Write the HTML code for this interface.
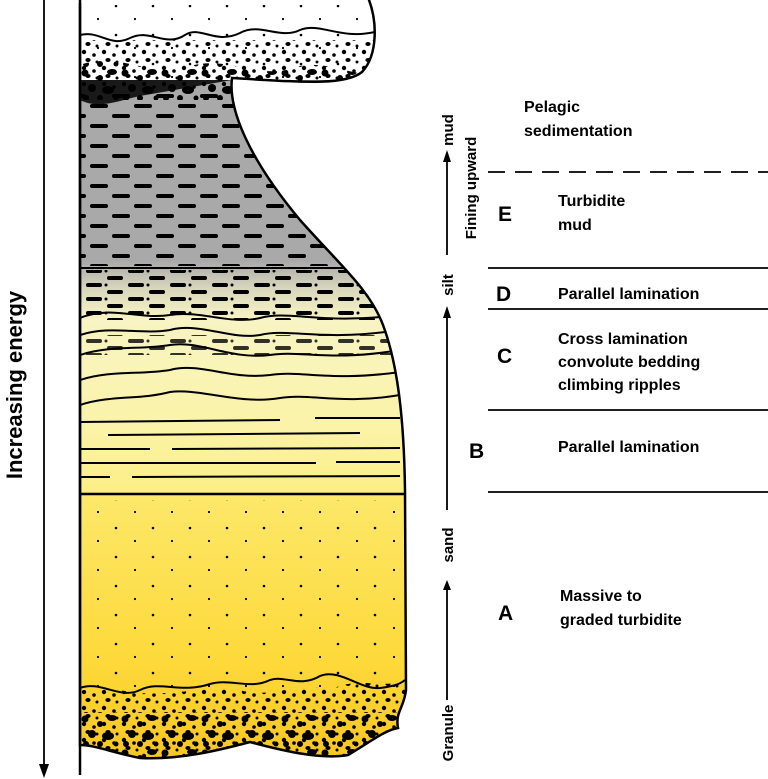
<!DOCTYPE html>
<html><head><meta charset="utf-8"><style>
html,body{margin:0;padding:0;background:#fff;}
svg{display:block;font-family:"Liberation Sans",Arial,sans-serif;font-weight:bold;}
</style></head><body>
<svg width="768" height="779" viewBox="0 0 768 779" xmlns="http://www.w3.org/2000/svg">
<defs>
<linearGradient id="gy" x1="0" y1="0" x2="0" y2="779" gradientUnits="userSpaceOnUse">
 <stop offset="0" stop-color="#a9a9a9"/>
 <stop offset="0.335" stop-color="#a9a9a9"/>
 <stop offset="0.37" stop-color="#d8d6bc"/>
 <stop offset="0.41" stop-color="#f8f4c4"/>
 <stop offset="0.55" stop-color="#fbf3a8"/>
 <stop offset="0.63" stop-color="#fbef86"/>
 <stop offset="0.634" stop-color="#fde86a"/>
 <stop offset="0.85" stop-color="#fdd93a"/>
 <stop offset="1" stop-color="#f7c21a"/>
</linearGradient>
<pattern id="dash" width="44" height="20" patternUnits="userSpaceOnUse">
 <rect x="2" y="4" width="18" height="4" rx="2" fill="#000"/>
 <rect x="24" y="14" width="18" height="4" rx="2" fill="#000"/>
</pattern>
<pattern id="dashdot" width="42" height="14" patternUnits="userSpaceOnUse">
 <rect x="2" y="3" width="16" height="4" rx="2" fill="#000"/>
 <circle cx="22" cy="5" r="1.5" fill="#000"/>
 <rect x="23" y="10" width="16" height="4" rx="2" fill="#000"/>
</pattern>
<pattern id="dots" width="37" height="29" patternUnits="userSpaceOnUse">
 <circle cx="5" cy="6" r="1.3" fill="#000"/>
 <circle cx="24" cy="19" r="1.1" fill="#000"/>
</pattern>
<pattern id="gran" width="40" height="34" patternUnits="userSpaceOnUse">
 <circle cx="5" cy="5" r="3.5" fill="#000"/>
 <circle cx="20" cy="10" r="3" fill="#000"/>
 <ellipse cx="32" cy="4" rx="5" ry="3" fill="#000"/>
 <circle cx="12" cy="20" r="4" fill="#000"/>
 <ellipse cx="28" cy="22" rx="6" ry="4" fill="#000"/>
 <circle cx="6" cy="30" r="3" fill="#000"/>
 <circle cx="36" cy="30" r="2.5" fill="#000"/>
 <circle cx="20" cy="30" r="3" fill="#000"/>
</pattern>
<pattern id="tdots" width="20" height="16" patternUnits="userSpaceOnUse">
 <circle cx="4" cy="4" r="2.2" fill="#000"/>
 <circle cx="14" cy="7" r="1.8" fill="#000"/>
 <ellipse cx="8" cy="12" rx="2.6" ry="2" fill="#000"/>
 <circle cx="17" cy="14" r="1.5" fill="#000"/>
</pattern>
<clipPath id="shape"><path id="sp" d="M80 -5 L367 -5 C378 20 378 55 362 72 C345 86 300 82 232 78 C228 110 250 160 300 220 C340 265 370 290 383 325 C398 365 404 420 405 490 L406 690 C404 708 395 712 398 728 C385 730 370 742 348 755 C320 760 280 750 250 742 C220 750 180 760 140 758 C110 752 95 745 80 745 Z"/></clipPath>
</defs>

<!-- energy arrow -->
<line x1="44" y1="0" x2="44" y2="766" stroke="#000" stroke-width="1.8"/>
<path d="M39 764 L44 778 L49 764 Z" fill="#000"/>
<text transform="translate(22 385) rotate(-90)" text-anchor="middle" font-size="22">Increasing energy</text>

<!-- column fill -->
<g clip-path="url(#shape)">
 <rect x="80" y="-5" width="330" height="790" fill="url(#gy)"/>
 <rect x="80" y="-5" width="330" height="85" fill="#fff"/>
 <rect x="80" y="5" width="330" height="75" fill="url(#dots)"/>
 <rect x="80" y="40" width="330" height="50" fill="url(#tdots)"/>
 <path d="M80 65 C120 50 150 80 190 66 C230 55 260 82 300 66 C330 60 360 80 380 72 L380 100 L80 100 Z" fill="url(#gran)"/>
 <path d="M80 80 L80 100 C100 110 120 100 140 96 L232 80 Z" fill="#000" opacity="0.85"/>
 <rect x="80" y="92" width="330" height="174" fill="url(#dash)"/>
 <rect x="80" y="270" width="330" height="50" fill="url(#dashdot)"/>
 <rect x="80" y="335" width="330" height="20" fill="url(#dashdot)" opacity="0.8"/>
 <rect x="80" y="500" width="330" height="200" fill="url(#dots)"/>
 <path d="M80 690 L80 779 L410 779 L410 680 C380 690 360 675 330 690 C300 680 270 700 240 690 C200 685 160 700 120 690 Z" fill="url(#tdots)"/>
 <rect x="80" y="712" width="330" height="67" fill="url(#gran)"/>
 <g fill="none" stroke="#000" stroke-width="2">
  <path d="M80 35 C100 30 110 48 130 38 C150 28 165 48 185 35 C200 25 215 45 240 33 C260 22 280 40 300 30 C320 22 340 40 375 32"/>
  <path d="M80 268 L400 268"/>
  <path d="M80 318 C110 305 140 320 170 315 C200 310 230 325 260 318 C290 310 320 325 400 315"/>
  <path d="M80 335 C110 325 140 335 170 330 C200 322 230 340 260 335 C290 328 320 342 400 330"/>
  <path d="M80 355 C110 345 140 350 170 345 C200 340 230 360 270 355 C300 350 330 362 400 350"/>
  <path d="M80 380 C110 370 140 375 170 370 C200 362 230 380 270 375 C300 370 330 382 400 372"/>
  <path d="M80 405 C110 395 140 400 170 392 C200 388 240 405 280 398 C310 393 340 405 400 395"/>
  <path d="M80 422 L280 420 M315 418 L400 418"/>
  <path d="M108 435 L360 433"/>
  <path d="M80 449 L150 449 M172 449 L400 448"/>
  <path d="M80 463 L316 463 M336 462 L400 462"/>
  <path d="M80 477 L110 477 M132 477 L400 476"/>
  <path d="M80 494 L406 494" stroke-width="2.5"/>
  <path d="M80 688 C100 680 120 700 140 690 C160 680 180 694 210 684 C230 678 250 690 270 680 C285 675 300 688 320 676 C340 668 360 690 380 688 C395 686 400 684 405 680"/>
 </g>
</g>
<use href="#sp" fill="none" stroke="#000" stroke-width="2.5"/>
<rect x="78" y="-10" width="300" height="10" fill="#fff"/>
<line x1="80" y1="3" x2="80" y2="775" stroke="#000" stroke-width="2.5"/>

<!-- grain axis -->
<g stroke="#000" stroke-width="1.8">
 <line x1="447" y1="700" x2="447" y2="590"/>
 <line x1="447" y1="510" x2="447" y2="316"/>
 <line x1="447" y1="255" x2="447" y2="160"/>
</g>
<path d="M443 590 L447 580 L451 590 Z M443 318 L447 306 L451 318 Z M443 162 L447 150 L451 162 Z" fill="#000"/>
<g font-size="15" text-anchor="middle">
 <text transform="translate(453 733) rotate(-90)">Granule</text>
 <text transform="translate(453 545) rotate(-90)">sand</text>
 <text transform="translate(453 285) rotate(-90)">silt</text>
 <text transform="translate(453 130) rotate(-90)">mud</text>
 <text transform="translate(476 188) rotate(-90)">Fining upward</text>
</g>

<!-- divider lines -->
<line x1="488" y1="172" x2="768" y2="172" stroke="#000" stroke-width="1.8" stroke-dasharray="17 10"/>
<g stroke="#000" stroke-width="1.8">
 <line x1="488" y1="268" x2="768" y2="268"/>
 <line x1="488" y1="309" x2="768" y2="309"/>
 <line x1="488" y1="410" x2="768" y2="410"/>
 <line x1="488" y1="492" x2="768" y2="492"/>
</g>

<g font-size="16">
 <text x="524" y="112">Pelagic</text>
 <text x="524" y="136">sedimentation</text>
 <text x="558" y="206">Turbidite</text>
 <text x="558" y="230">mud</text>
 <text x="558" y="299">Parallel lamination</text>
 <text x="558" y="344">Cross lamination</text>
 <text x="558" y="367">convolute bedding</text>
 <text x="558" y="390">climbing ripples</text>
 <text x="558" y="452">Parallel lamination</text>
 <text x="560" y="601">Massive to</text>
 <text x="560" y="625">graded turbidite</text>
</g>
<g font-size="21">
 <text x="498" y="221">E</text>
 <text x="496" y="301">D</text>
 <text x="497" y="363">C</text>
 <text x="469" y="458">B</text>
 <text x="498" y="620">A</text>
</g>
</svg>
</body></html>
